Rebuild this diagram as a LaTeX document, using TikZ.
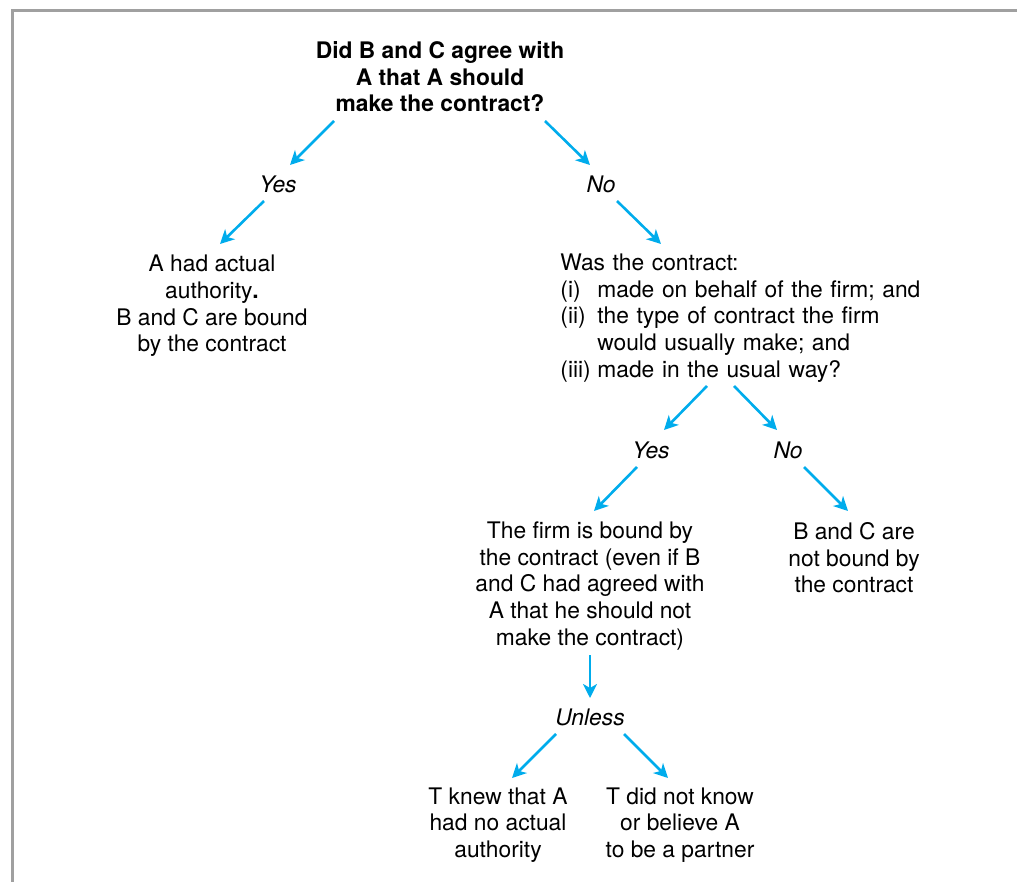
\documentclass[tikz,border=0pt]{standalone}
\usepackage{fontspec}
\setmainfont{TeX Gyre Heros}
\usepackage{xcolor}
\usetikzlibrary{arrows.meta}
\definecolor{arrowblue}{RGB}{0,172,236}
\definecolor{framegray}{RGB}{160,160,160}

\begin{document}
\begin{tikzpicture}[
  x=0.5pt, y=-0.5pt,
  every node/.style={inner sep=0pt, font=\fontsize{11.4}{13.3}\selectfont},
  txt/.style={align=center},
  answer/.style={font=\fontsize{11.4}{13.3}\selectfont\itshape},
  arrow/.style={-{Stealth[length=7pt, width=7pt, inset=2pt]}, line width=1.3pt, draw=arrowblue}
]
\useasboundingbox (0,0) rectangle (1017,882);

% Frame
\draw [framegray, line width=1.5pt] (12,882) -- (12,11) -- (1017,11);

% Question and first answers
\node (agree) [txt, font=\fontsize{11.4}{13.3}\selectfont\bfseries] at (440,77) {Did B and C agree with\\A that A should\\make the contract?};
\node (yesA) [answer] at (278,184) {Yes};
\node (noA) [answer] at (601,184) {No};
\node (actual) [txt] at (212,306) {A had actual\\authority\textbf{.}\\B and C are bound\\by the contract};
\node (usual) [align=left, text width=200pt, anchor=west] at (560,318) {Was the contract:\\
  \makebox[18.5pt][l]{(i)}made on behalf of the firm; and\\
  \makebox[18.5pt][l]{(ii)}the type of contract the firm\\
  \hspace*{18.5pt}would usually make; and\\
  \makebox[18.5pt][l]{(iii)}made in the usual way?};

% Second level
\node (yesB) [answer] at (651,450) {Yes};
\node (noB) [answer] at (788,450) {No};
\node (firmbound) [txt] at (590,586) {The firm is bound by\\the contract (even if B\\and C had agreed with\\A that he should not\\make the contract)};
\node (notbound) [txt] at (854,558) {B and C are\\not bound by\\the contract};

% Exceptions
\node (unless) [answer] at (590,717) {Unless};
\node (knew) [txt] at (498,825) {T knew that A\\had no actual\\authority};
\node (didnot) [txt] at (680,825) {T did not know\\or believe A\\to be a partner};

% Arrows
\draw [arrow] ([shift={(-106,44)}]agree.center) -- ([shift={(12,-19)}]yesA.center);
\draw [arrow] ([shift={(105,44)}]agree.center) -- ([shift={(-11,-19)}]noA.center);
\draw [arrow] ([shift={(-14,17)}]yesA.center) -- ([shift={(8,-62)}]actual.center);
\draw [arrow] ([shift={(16,17)}]noA.center) -- ([shift={(101,-74)}]usual.west);
\draw [arrow] ([shift={(147,68)}]usual.west) -- ([shift={(13,-20)}]yesB.center);
\draw [arrow] ([shift={(174,68)}]usual.west) -- ([shift={(-11,-20)}]noB.center);
\draw [arrow] ([shift={(-14,17)}]yesB.center) -- ([shift={(4,-75)}]firmbound.center);
\draw [arrow] ([shift={(16,17)}]noB.center) -- ([shift={(-6,-47)}]notbound.center);
\draw [arrow] ([shift={(0,69)}]firmbound.center) -- ([shift={(0,-19)}]unless.center);
\draw [arrow] ([shift={(-34,17)}]unless.center) -- ([shift={(14,-47)}]knew.center);
\draw [arrow] ([shift={(34,17)}]unless.center) -- ([shift={(-12,-47)}]didnot.center);

\end{tikzpicture}
\end{document}
